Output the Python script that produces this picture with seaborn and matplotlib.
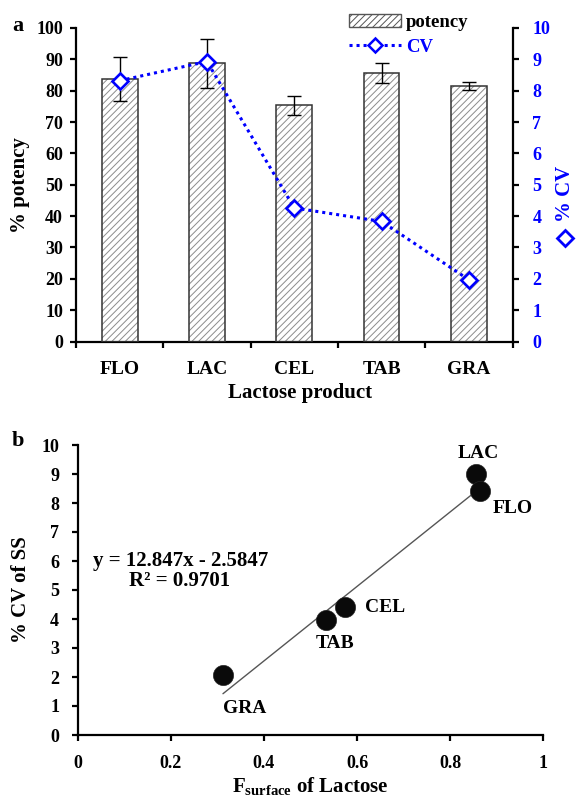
import numpy as np
import pandas as pd
import matplotlib
matplotlib.use("Agg")
import matplotlib.pyplot as plt
import seaborn as sns
from matplotlib.patches import Patch, Rectangle
from matplotlib.lines import Line2D

# ---------------- data ----------------
products = ["FLO", "LAC", "CEL", "TAB", "GRA"]
potency = [83.7, 88.8, 75.4, 85.6, 81.5]
potency_err = [6.9, 7.8, 3.0, 3.2, 1.3]
cv = [8.32, 8.93, 4.26, 3.83, 1.97]

b_labels = ["LAC", "FLO", "CEL", "TAB", "GRA"]
f_surface = [0.856, 0.865, 0.574, 0.534, 0.312]
cv_ss = [8.99, 8.42, 4.41, 3.98, 2.06]
fit_slope = 12.847
fit_intercept = -2.5847
fit_text = ["y = 12.847x - 2.5847", "R\u00b2 = 0.9701"]

potency_ticks = list(range(0, 101, 10))
cv_ticks = list(range(0, 11))
fs_ticks = [0, 0.2, 0.4, 0.6, 0.8, 1]
fs_ticklabels = ["0", "0.2", "0.4", "0.6", "0.8", "1"]

# ---------------- style ----------------
sns.set_theme(style="white")
plt.rcParams["font.family"] = ["Liberation Serif", "DejaVu Serif"]
plt.rcParams["font.weight"] = "bold"
plt.rcParams["axes.labelweight"] = "bold"
plt.rcParams["text.color"] = "black"
plt.rcParams["axes.edgecolor"] = "black"
plt.rcParams["xtick.color"] = "black"
plt.rcParams["ytick.color"] = "black"
plt.rcParams["mathtext.fontset"] = "custom"
plt.rcParams["mathtext.rm"] = "Liberation Serif:bold"
plt.rcParams["mathtext.bf"] = "Liberation Serif:bold"
plt.rcParams["mathtext.it"] = "Liberation Serif:bold:italic"
plt.rcParams["hatch.linewidth"] = 0.7

BLUE = "#0000ff"
W, H = 578, 799


def fx(px):
    return px / W


def fy(py):
    return 1 - py / H


fig = plt.figure(figsize=(5.78, 7.99), dpi=100)
fig.patch.set_facecolor("white")

TICK_FS = 13
CAT_FS = 14
LEG_FS = 13.5
LAB_FS = 15
ANN_FS = 15

# ---------------- panel a ----------------
ax = fig.add_axes([fx(76), fy(341.5), fx(512.5) - fx(76), fy(28) - fy(341.5)])
df_a = pd.DataFrame({"product": products, "potency": potency})
sns.barplot(data=df_a, x="product", y="potency", ax=ax, width=0.41,
            color="white", errorbar=None, zorder=2)
for p in list(ax.patches):
    p.set_facecolor("white")
    p.set_hatch("/////")
    p.set_edgecolor("#8c8c8c")
    p.set_linewidth(0)
    ax.add_patch(Rectangle(p.get_xy(), p.get_width(), p.get_height(), fill=False,
                           edgecolor="#333333", linewidth=1.1, zorder=3))
ax.errorbar(range(len(products)), potency, yerr=potency_err, fmt="none",
            ecolor="black", elinewidth=1.0, capsize=5, capthick=1.0, zorder=4)
ax.set_xlim(-0.5, len(products) - 0.5)
ax.set_ylim(0, 100)
ax.set_yticks(potency_ticks)
ax.set_xticks(range(len(products)))
ax.set_xticklabels(products)
ax.set_xticks(np.arange(-0.5, len(products), 1), minor=True)
ax.set_xlabel("")
ax.set_ylabel("")
for s in ["top", "right"]:
    ax.spines[s].set_visible(False)
for s in ["left", "bottom"]:
    ax.spines[s].set_linewidth(1.6)
    ax.spines[s].set_color("black")
ax.tick_params(axis="y", left=True, direction="out", length=4.3, width=1.6,
               pad=5, labelsize=TICK_FS)
ax.tick_params(axis="x", which="major", bottom=True, length=0, pad=14, labelsize=CAT_FS)
ax.tick_params(axis="x", which="minor", bottom=True, length=4.5, width=1.6, direction="out")
for t in ax.get_xticklabels() + ax.get_yticklabels():
    t.set_fontweight("bold")

ax2 = ax.twinx()
ax2.plot(range(len(products)), cv, color=BLUE, ls=(0, (1, 1.3)), lw=2.2,
         marker="D", ms=8.5, mfc="white", mec=BLUE, mew=1.9, zorder=5)
ax2.set_ylim(0, 10)
ax2.set_yticks(cv_ticks)
for s in ["top", "left", "bottom"]:
    ax2.spines[s].set_visible(False)
ax2.spines["right"].set_linewidth(1.6)
ax2.spines["right"].set_color("black")
ax2.tick_params(axis="y", right=True, direction="out", length=4.3, width=1.6,
                pad=10, labelsize=TICK_FS, labelcolor=BLUE, color="black")
for t in ax2.get_yticklabels():
    t.set_fontweight("bold")
ax2.grid(False)
ax.grid(False)

handles = [Patch(facecolor="white", edgecolor="#555555", hatch="/////", linewidth=1.0),
           Line2D([], [], color=BLUE, ls=(0, (1, 1.3)), lw=2.2, marker="D", ms=7,
                  mfc="white", mec=BLUE, mew=1.8)]
leg = ax2.legend(handles, ["potency", "CV"], loc="upper left",
                 bbox_to_anchor=(fx(349), fy(14)), bbox_transform=fig.transFigure,
                 frameon=False, fontsize=LEG_FS, handlelength=2.75, handleheight=0.7,
                 handletextpad=0.3, labelspacing=0.4, borderpad=0, borderaxespad=0)
for t in leg.get_texts():
    t.set_fontweight("bold")
leg.get_texts()[1].set_color(BLUE)

fig.text(fx(17.5), fy(26), "a", fontsize=16, fontweight="bold", ha="center", va="center")
fig.text(fx(20), fy(185), "% potency", rotation=90, fontsize=LAB_FS, fontweight="bold",
         ha="center", va="center")
fig.text(fx(300), fy(393), "Lactose product", fontsize=LAB_FS, fontweight="bold",
         ha="center", va="center")
fig.text(fx(565), fy(194), "% CV", rotation=90, fontsize=LAB_FS, fontweight="bold",
         ha="center", va="center", color=BLUE)
fig.add_artist(Line2D([fx(565)], [fy(238)], transform=fig.transFigure, marker="D", ms=8.5,
                      mfc="white", mec=BLUE, mew=2.0, ls="none"))

# ---------------- panel b ----------------
axb = fig.add_axes([fx(77.7), fy(735), fx(543.3) - fx(77.7), fy(445) - fy(735)])
df_b = pd.DataFrame({"label": b_labels, "fs": f_surface, "cv": cv_ss})
xfit = np.array([min(f_surface), max(f_surface)])
axb.plot(xfit, fit_slope * xfit + fit_intercept, color="#555555", lw=1.0, zorder=2)
sns.scatterplot(data=df_b, x="fs", y="cv", ax=axb, s=210, color="#0a0a0a",
                edgecolor="#222222", linewidth=0.5, zorder=3, legend=False)
axb.set_xlim(0, 1)
axb.set_ylim(0, 10)
axb.set_xticks(fs_ticks)
axb.set_xticklabels(fs_ticklabels)
axb.set_yticks(cv_ticks)
axb.set_xlabel("")
axb.set_ylabel("")
axb.grid(False)
for s in ["top", "right"]:
    axb.spines[s].set_visible(False)
for s in ["left", "bottom"]:
    axb.spines[s].set_linewidth(1.6)
    axb.spines[s].set_color("black")
axb.tick_params(axis="y", left=True, direction="out", length=4.3, width=1.6,
                pad=9, labelsize=TICK_FS)
axb.tick_params(axis="x", bottom=True, direction="out", length=4.3, width=1.6,
                pad=10, labelsize=TICK_FS)
for t in axb.get_xticklabels() + axb.get_yticklabels():
    t.set_fontweight("bold")

label_pos = {"LAC": (0.86, 9.7), "FLO": (0.935, 7.8), "CEL": (0.66, 4.4),
             "TAB": (0.553, 3.15), "GRA": (0.358, 0.93)}
for lab in b_labels:
    x0, y0 = label_pos[lab]
    axb.text(x0, y0, lab, fontsize=CAT_FS, fontweight="bold", ha="center", va="center")

axb.text(0.22, 6.0, fit_text[0], fontsize=ANN_FS, fontweight="bold", ha="center", va="center")
axb.text(0.218, 5.3, fit_text[1], fontsize=ANN_FS, fontweight="bold", ha="center", va="center")

fig.text(fx(18), fy(441), "b", fontsize=16, fontweight="bold", ha="center", va="center")
fig.text(fx(21), fy(590), "% CV of SS", rotation=90, fontsize=LAB_FS, fontweight="bold",
         ha="center", va="center")
fig.text(fx(310), fy(786), r"F$_{\mathbf{surface}}$ of Lactose", fontsize=LAB_FS,
         fontweight="bold", ha="center", va="center")

fig.savefig("out.png", dpi=100, facecolor="white")
